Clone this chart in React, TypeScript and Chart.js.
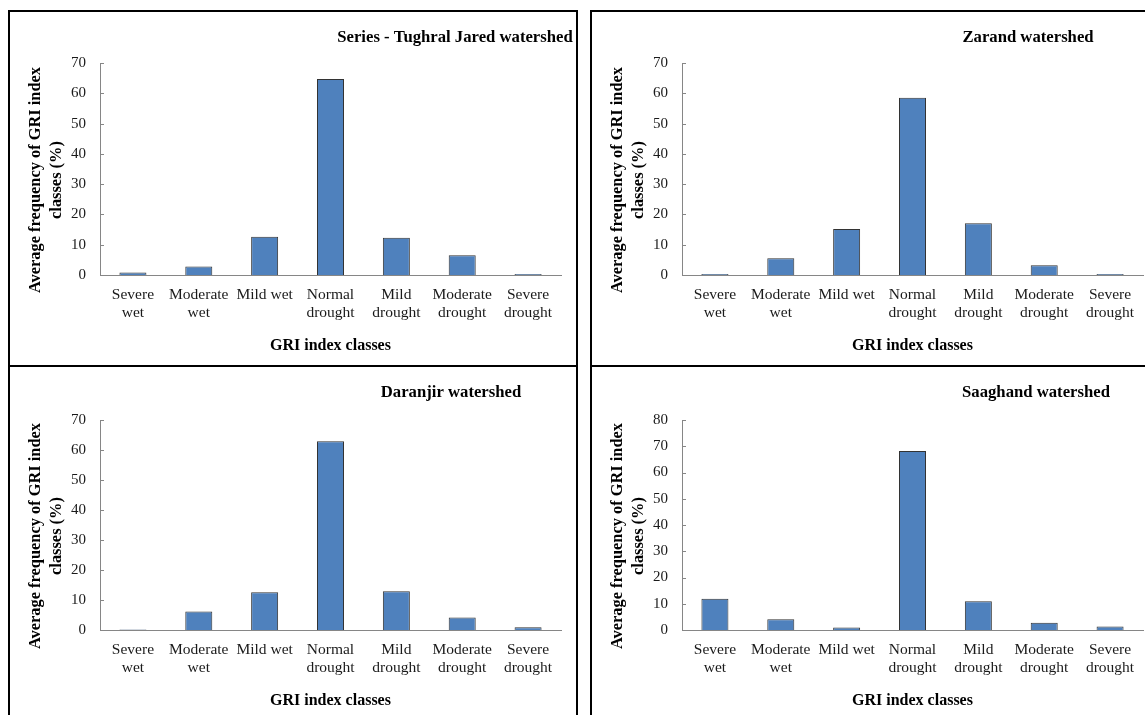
import React, { useEffect, useRef } from "react";
import { Chart, registerables } from "chart.js";

Chart.register(...registerables);

// ---------- data ----------
const categories: (string | string[])[] = [
  ["Severe", "wet"],
  ["Moderate", "wet"],
  "Mild wet",
  ["Normal", "drought"],
  ["Mild", "drought"],
  ["Moderate", "drought"],
  ["Severe", "drought"],
];
const tughralJared = [0.8, 2.8, 12.6, 64.7, 12.3, 6.5, 0.3];
const zarand = [0.3, 5.5, 15.2, 58.5, 17.1, 3.2, 0.3];
const daranjir = [0.2, 6.2, 12.6, 62.9, 12.9, 4.2, 0.9];
const saaghand = [11.9, 4.1, 1.0, 68.2, 11.0, 2.8, 1.3];
const yTitleLines = ["Average frequency of GRI index", "classes (%)"];
const xTitleText = "GRI index classes";

const FONT = "'Liberation Serif', 'Times New Roman', serif";
const AXIS = "#868686";
const TEXT = "#1a1a1a";

type PanelCfg = {
  title: string;
  data: number[];
  yMax: number;
  left: number;
  top: number;
  padTop: number;
  titleX: number;
};

const panels: PanelCfg[] = [
  { title: "Series - Tughral Jared watershed", data: tughralJared, yMax: 70, left: 8, top: 10, padTop: 51, titleX: 445 },
  { title: "Zarand watershed", data: zarand, yMax: 70, left: 590, top: 10, padTop: 51, titleX: 436 },
  { title: "Daranjir watershed", data: daranjir, yMax: 70, left: 8, top: 365, padTop: 53, titleX: 441 },
  { title: "Saaghand watershed", data: saaghand, yMax: 80, left: 590, top: 365, padTop: 53, titleX: 444 },
];

const CANVAS_W = 566;
const CANVAS_H = 352;
const Y_AXIS_W = 90;
const X_AXIS_H = 89;

const panelText = {
  id: "panelText",
  beforeDatasetsDraw(chart: any) {
    const ys = chart.scales.y;
    const { ctx, chartArea } = chart;
    ctx.save();
    ctx.strokeStyle = AXIS;
    ctx.lineWidth = 1;
    ys.ticks.forEach((t: any) => {
      const py = Math.round(ys.getPixelForValue(t.value)) + 0.5;
      ctx.beginPath();
      ctx.moveTo(chartArea.left, py);
      ctx.lineTo(chartArea.left + 4, py);
      ctx.stroke();
    });
    ctx.restore();
  },
  afterDraw(chart: any, _args: any, opts: any) {
    const { ctx, chartArea } = chart;
    ctx.save();
    ctx.fillStyle = "#000";
    ctx.font = `bold 16.7px ${FONT}`;
    ctx.textAlign = "center";
    ctx.textBaseline = "middle";
    ctx.fillText(opts.title, opts.titleX, 26);

    const cy = (chartArea.top + chartArea.bottom) / 2 + 11;
    ctx.translate(26, cy);
    ctx.rotate(-Math.PI / 2);
    ctx.font = `bold 16.4px ${FONT}`;
    yTitleLines.forEach((line, i) => {
      ctx.fillText(line, 0, i * 21);
    });
    ctx.restore();
  },
};

function Panel({ cfg }: { cfg: PanelCfg }) {
  const ref = useRef<HTMLCanvasElement | null>(null);
  useEffect(() => {
    if (!ref.current) return;
    const chart = new Chart(ref.current, {
      type: "bar",
      data: {
        labels: categories as any,
        datasets: [
          {
            data: cfg.data,
            backgroundColor: "#4F81BD",
            borderColor: "#333333",
            borderWidth: 1,
            categoryPercentage: 1,
            barPercentage: 0.41,
          },
        ],
      },
      options: {
        animation: false,
        responsive: false,
        maintainAspectRatio: false,
        devicePixelRatio: 1,
        layout: { padding: { top: cfg.padTop, right: 15, left: 0, bottom: 0 } },
        plugins: {
          legend: { display: false },
          tooltip: { enabled: false },
          title: { display: false },
          panelText: { title: cfg.title, titleX: cfg.titleX },
        } as any,
        scales: {
          x: {
            grid: { display: false, drawTicks: false },
            border: { display: true, color: AXIS, width: 1 },
            ticks: {
              autoSkip: false,
              maxRotation: 0,
              minRotation: 0,
              padding: 11,
              color: TEXT,
              font: { family: FONT, size: 15.5, lineHeight: 1.17 },
            },
            title: {
              display: true,
              text: xTitleText,
              color: "#000",
              font: { family: FONT, size: 16, weight: "bold", lineHeight: 1.2 },
              padding: { top: 0, bottom: 9 },
            },
            afterFit(scale: any) {
              scale.height = X_AXIS_H;
            },
          },
          y: {
            min: 0,
            max: cfg.yMax,
            grid: { display: false, drawTicks: false },
            border: { display: true, color: AXIS, width: 1 },
            ticks: {
              stepSize: 10,
              padding: 14,
              color: TEXT,
              font: { family: FONT, size: 15 },
            },
            afterFit(scale: any) {
              scale.width = Y_AXIS_W;
            },
          },
        },
      },
      plugins: [panelText as any],
    });
    return () => chart.destroy();
  }, [cfg]);

  return (
    <div
      style={{
        position: "absolute",
        left: cfg.left,
        top: cfg.top,
        width: 570,
        height: 357,
        border: "2px solid #000",
        boxSizing: "border-box",
        background: "#fff",
      }}
    >
      <canvas
        ref={ref}
        width={CANVAS_W}
        height={CANVAS_H}
        style={{ position: "absolute", left: 0, top: 0, width: CANVAS_W, height: CANVAS_H }}
      />
    </div>
  );
}

export default function App() {
  return (
    <div
      style={{
        position: "fixed",
        left: 0,
        top: 0,
        width: 1145,
        height: 715,
        overflow: "hidden",
        background: "#fff",
      }}
    >
      {panels.map((p, i) => (
        <Panel key={i} cfg={p} />
      ))}
    </div>
  );
}
